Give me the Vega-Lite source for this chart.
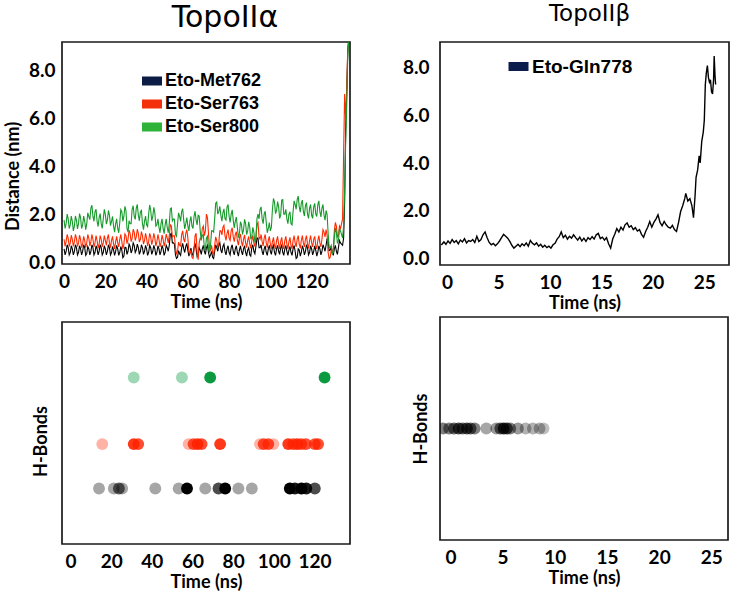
{
  "$schema": "https://vega.github.io/schema/vega-lite/v6.json",
  "background": "white",
  "padding": {"left": 3, "top": 2, "right": 2, "bottom": 0},
  "config": {
    "view": {"stroke": "#1a1a1a", "strokeWidth": 1.7},
    "font": "Lato",
    "axis": {"grid": false, "domain": false, "ticks": false, "labelFont": "Lato", "labelFontWeight": "bold", "labelFontSize": 19, "labelColor": "black", "titleFont": "Lato", "titleFontWeight": "bold", "titleFontSize": 18, "titleColor": "black", "labelFlush": false, "labelOverlap": false},
    "title": {"font": "DejaVu Sans", "fontWeight": "normal", "color": "black", "anchor": "middle"}
  },
  "datasets": {
    "tl": [
      {"t":0,"met762":0.55,"ser763":0.95,"ser800":1.75},
      {"t":1,"met762":0.45,"ser763":0.85,"ser800":1.6},
      {"t":2,"met762":0.6,"ser763":1.0,"ser800":1.8},
      {"t":3,"met762":0.4,"ser763":0.8,"ser800":1.55},
      {"t":4,"met762":0.55,"ser763":0.95,"ser800":1.7},
      {"t":5,"met762":0.45,"ser763":0.85,"ser800":1.5},
      {"t":6,"met762":0.6,"ser763":1.0,"ser800":1.75},
      {"t":7,"met762":0.4,"ser763":0.8,"ser800":1.6},
      {"t":8,"met762":0.55,"ser763":0.95,"ser800":1.85},
      {"t":9,"met762":0.45,"ser763":0.75,"ser800":1.55},
      {"t":10,"met762":0.6,"ser763":0.9,"ser800":1.7},
      {"t":11,"met762":0.35,"ser763":0.8,"ser800":1.6},
      {"t":12,"met762":0.55,"ser763":1.0,"ser800":1.9},
      {"t":13,"met762":0.45,"ser763":0.85,"ser800":2.25},
      {"t":14,"met762":0.6,"ser763":0.95,"ser800":1.9},
      {"t":15,"met762":0.4,"ser763":0.8,"ser800":2.1},
      {"t":16,"met762":0.55,"ser763":0.9,"ser800":1.7},
      {"t":17,"met762":0.45,"ser763":0.75,"ser800":1.85},
      {"t":18,"met762":0.6,"ser763":0.95,"ser800":1.6},
      {"t":19,"met762":0.4,"ser763":0.8,"ser800":1.8},
      {"t":20,"met762":0.55,"ser763":0.9,"ser800":2.0},
      {"t":21,"met762":0.45,"ser763":1.0,"ser800":1.75},
      {"t":22,"met762":0.6,"ser763":0.8,"ser800":1.95},
      {"t":23,"met762":0.4,"ser763":0.9,"ser800":1.7},
      {"t":24,"met762":0.5,"ser763":0.75,"ser800":1.5},
      {"t":25,"met762":0.45,"ser763":0.85,"ser800":1.6},
      {"t":26,"met762":0.55,"ser763":0.8,"ser800":1.4},
      {"t":27,"met762":0.4,"ser763":0.95,"ser800":1.65},
      {"t":28,"met762":0.5,"ser763":0.85,"ser800":2.1},
      {"t":29,"met762":0.25,"ser763":0.75,"ser800":1.9},
      {"t":30,"met762":0.6,"ser763":1.1,"ser800":2.15},
      {"t":31,"met762":0.45,"ser763":0.95,"ser800":1.25},
      {"t":32,"met762":0.65,"ser763":1.2,"ser800":1.6},
      {"t":33,"met762":0.5,"ser763":1.0,"ser800":2.2},
      {"t":34,"met762":0.7,"ser763":1.25,"ser800":1.9},
      {"t":35,"met762":0.5,"ser763":1.05,"ser800":2.25},
      {"t":36,"met762":0.6,"ser763":1.2,"ser800":1.95},
      {"t":37,"met762":0.45,"ser763":0.95,"ser800":2.1},
      {"t":38,"met762":0.6,"ser763":1.1,"ser800":1.6},
      {"t":39,"met762":0.45,"ser763":0.9,"ser800":1.7},
      {"t":40,"met762":0.55,"ser763":1.0,"ser800":1.55},
      {"t":41,"met762":0.4,"ser763":0.85,"ser800":2.0},
      {"t":42,"met762":0.6,"ser763":1.05,"ser800":2.15},
      {"t":43,"met762":0.45,"ser763":0.9,"ser800":1.9},
      {"t":44,"met762":0.55,"ser763":1.0,"ser800":2.05},
      {"t":45,"met762":0.4,"ser763":0.85,"ser800":1.55},
      {"t":46,"met762":0.55,"ser763":0.95,"ser800":1.45},
      {"t":47,"met762":0.45,"ser763":0.8,"ser800":1.6},
      {"t":48,"met762":0.55,"ser763":0.95,"ser800":1.4},
      {"t":49,"met762":0.4,"ser763":0.85,"ser800":1.55},
      {"t":50,"met762":0.6,"ser763":1.0,"ser800":1.45},
      {"t":51,"met762":0.7,"ser763":1.1,"ser800":1.6},
      {"t":52,"met762":1.2,"ser763":1.5,"ser800":2.25},
      {"t":53,"met762":0.8,"ser763":1.1,"ser800":1.8},
      {"t":54,"met762":0.3,"ser763":0.6,"ser800":1.15},
      {"t":55,"met762":0.2,"ser763":0.45,"ser800":1.6},
      {"t":56,"met762":0.35,"ser763":0.7,"ser800":1.9},
      {"t":57,"met762":0.6,"ser763":1.15,"ser800":2.1},
      {"t":58,"met762":0.55,"ser763":0.95,"ser800":1.75},
      {"t":59,"met762":0.65,"ser763":1.2,"ser800":1.6},
      {"t":60,"met762":0.5,"ser763":1.0,"ser800":1.5},
      {"t":61,"met762":0.4,"ser763":0.35,"ser800":1.7},
      {"t":62,"met762":0.35,"ser763":0.2,"ser800":1.5},
      {"t":63,"met762":0.6,"ser763":0.5,"ser800":1.9},
      {"t":64,"met762":0.55,"ser763":1.2,"ser800":1.75},
      {"t":65,"met762":0.3,"ser763":0.1,"ser800":1.95},
      {"t":66,"met762":0.5,"ser763":1.0,"ser800":1.3},
      {"t":67,"met762":0.55,"ser763":1.4,"ser800":1.1},
      {"t":68,"met762":0.45,"ser763":1.1,"ser800":0.6},
      {"t":69,"met762":0.6,"ser763":2.0,"ser800":1.0},
      {"t":70,"met762":0.4,"ser763":1.2,"ser800":0.55},
      {"t":71,"met762":0.3,"ser763":0.5,"ser800":0.7},
      {"t":72,"met762":0.2,"ser763":0.4,"ser800":1.3},
      {"t":73,"met762":0.45,"ser763":0.7,"ser800":1.8},
      {"t":74,"met762":0.6,"ser763":0.9,"ser800":2.5},
      {"t":75,"met762":0.7,"ser763":0.8,"ser800":2.1},
      {"t":76,"met762":0.5,"ser763":1.3,"ser800":1.95},
      {"t":77,"met762":0.65,"ser763":1.45,"ser800":2.05},
      {"t":78,"met762":0.45,"ser763":1.1,"ser800":1.8},
      {"t":79,"met762":0.55,"ser763":1.2,"ser800":2.3},
      {"t":80,"met762":0.4,"ser763":1.0,"ser800":1.9},
      {"t":81,"met762":0.6,"ser763":1.3,"ser800":2.0},
      {"t":82,"met762":0.45,"ser763":1.05,"ser800":1.75},
      {"t":83,"met762":0.55,"ser763":1.15,"ser800":1.7},
      {"t":84,"met762":0.4,"ser763":0.9,"ser800":1.45},
      {"t":85,"met762":0.5,"ser763":1.0,"ser800":1.2},
      {"t":86,"met762":0.45,"ser763":0.85,"ser800":1.55},
      {"t":87,"met762":0.55,"ser763":0.95,"ser800":1.35},
      {"t":88,"met762":0.4,"ser763":0.8,"ser800":1.6},
      {"t":89,"met762":0.5,"ser763":0.9,"ser800":1.3},
      {"t":90,"met762":0.3,"ser763":0.75,"ser800":1.45},
      {"t":91,"met762":0.6,"ser763":0.9,"ser800":1.05},
      {"t":92,"met762":0.45,"ser763":0.8,"ser800":1.25},
      {"t":93,"met762":0.65,"ser763":1.0,"ser800":1.0},
      {"t":94,"met762":1.0,"ser763":1.65,"ser800":2.0},
      {"t":95,"met762":0.6,"ser763":0.95,"ser800":2.2},
      {"t":96,"met762":0.45,"ser763":0.85,"ser800":1.8},
      {"t":97,"met762":0.55,"ser763":1.0,"ser800":2.0},
      {"t":98,"met762":0.4,"ser763":0.8,"ser800":1.65},
      {"t":99,"met762":0.55,"ser763":0.9,"ser800":1.4},
      {"t":100,"met762":0.45,"ser763":0.75,"ser800":1.3},
      {"t":101,"met762":0.6,"ser763":0.85,"ser800":2.2},
      {"t":102,"met762":0.4,"ser763":0.7,"ser800":2.5},
      {"t":103,"met762":0.55,"ser763":0.9,"ser800":2.15},
      {"t":104,"met762":0.45,"ser763":0.75,"ser800":2.3},
      {"t":105,"met762":0.6,"ser763":0.85,"ser800":1.95},
      {"t":106,"met762":0.4,"ser763":0.7,"ser800":2.6},
      {"t":107,"met762":0.55,"ser763":0.9,"ser800":2.0},
      {"t":108,"met762":0.45,"ser763":0.75,"ser800":1.8},
      {"t":109,"met762":0.5,"ser763":0.85,"ser800":2.0},
      {"t":110,"met762":0.4,"ser763":0.7,"ser800":1.6},
      {"t":111,"met762":0.55,"ser763":0.9,"ser800":2.1},
      {"t":112,"met762":0.45,"ser763":0.8,"ser800":2.4},
      {"t":113,"met762":0.2,"ser763":0.95,"ser800":2.6},
      {"t":114,"met762":0.5,"ser763":0.75,"ser800":2.3},
      {"t":115,"met762":0.4,"ser763":0.9,"ser800":2.45},
      {"t":116,"met762":0.55,"ser763":0.8,"ser800":2.1},
      {"t":117,"met762":0.45,"ser763":0.95,"ser800":2.35},
      {"t":118,"met762":0.6,"ser763":0.75,"ser800":2.0},
      {"t":119,"met762":0.4,"ser763":0.9,"ser800":2.25},
      {"t":120,"met762":0.55,"ser763":0.8,"ser800":1.95},
      {"t":121,"met762":0.45,"ser763":0.95,"ser800":2.3},
      {"t":122,"met762":0.5,"ser763":0.7,"ser800":2.0},
      {"t":123,"met762":0.4,"ser763":0.9,"ser800":2.4},
      {"t":124,"met762":0.55,"ser763":0.8,"ser800":2.1},
      {"t":125,"met762":0.45,"ser763":0.95,"ser800":2.25},
      {"t":126,"met762":0.6,"ser763":1.25,"ser800":1.95},
      {"t":127,"met762":0.7,"ser763":1.35,"ser800":2.15},
      {"t":128,"met762":0.85,"ser763":0.4,"ser800":1.2},
      {"t":129,"met762":0.5,"ser763":0.2,"ser800":0.6},
      {"t":130,"met762":0.4,"ser763":0.35,"ser800":0.35},
      {"t":131,"met762":0.55,"ser763":1.3,"ser800":1.0},
      {"t":132,"met762":0.45,"ser763":1.5,"ser800":1.25},
      {"t":133,"met762":0.6,"ser763":1.1,"ser800":0.9},
      {"t":134,"met762":0.8,"ser763":1.4,"ser800":1.3},
      {"t":135,"met762":0.7,"ser763":1.8,"ser800":1.0},
      {"t":135.5,"met762":1.0,"ser763":4.5,"ser800":1.5},
      {"t":136,"met762":2.5,"ser763":7.0,"ser800":3.0},
      {"t":136.5,"met762":5.5,"ser763":6.0,"ser800":5.0},
      {"t":137,"met762":7.0,"ser763":7.2,"ser800":6.5},
      {"t":137.5,"met762":8.8,"ser763":8.8,"ser800":8.5},
      {"t":138,"met762":9.3,"ser763":9.3,"ser800":9.3},
      {"t":0.5,"met762":0.3,"ser763":0.65,"ser800":1.4},
      {"t":1.5,"met762":0.72,"ser763":1.15,"ser800":2.0},
      {"t":2.5,"met762":0.3,"ser763":0.65,"ser800":1.4},
      {"t":3.5,"met762":0.68,"ser763":1.12,"ser800":1.92},
      {"t":4.5,"met762":0.3,"ser763":0.65,"ser800":1.3},
      {"t":5.5,"met762":0.72,"ser763":1.15,"ser800":1.92},
      {"t":6.5,"met762":0.3,"ser763":0.65,"ser800":1.38},
      {"t":7.5,"met762":0.68,"ser763":1.12,"ser800":2.02},
      {"t":8.5,"met762":0.3,"ser763":0.6,"ser800":1.4},
      {"t":9.5,"met762":0.72,"ser763":1.07,"ser800":1.92},
      {"t":10.5,"met762":0.28,"ser763":0.6,"ser800":1.35},
      {"t":11.5,"met762":0.65,"ser763":1.15,"ser800":2.05},
      {"t":12.5,"met762":0.3,"ser763":0.67,"ser800":1.77},
      {"t":13.5,"met762":0.72,"ser763":1.15,"ser800":2.37},
      {"t":14.5,"met762":0.3,"ser763":0.63,"ser800":1.7},
      {"t":15.5,"met762":0.68,"ser763":1.1,"ser800":2.2},
      {"t":16.5,"met762":0.3,"ser763":0.57,"ser800":1.48},
      {"t":17.5,"met762":0.72,"ser763":1.1,"ser800":2.02},
      {"t":18.5,"met762":0.3,"ser763":0.63,"ser800":1.4},
      {"t":19.5,"met762":0.68,"ser763":1.1,"ser800":2.2},
      {"t":20.5,"met762":0.3,"ser763":0.7,"ser800":1.58},
      {"t":21.5,"met762":0.72,"ser763":1.15,"ser800":2.15},
      {"t":22.5,"met762":0.3,"ser763":0.6,"ser800":1.52},
      {"t":23.5,"met762":0.65,"ser763":1.07,"ser800":1.9},
      {"t":24.5,"met762":0.28,"ser763":0.55,"ser800":1.25},
      {"t":25.5,"met762":0.7,"ser763":1.07,"ser800":1.8},
      {"t":26.5,"met762":0.28,"ser763":0.63,"ser800":1.22},
      {"t":27.5,"met762":0.65,"ser763":1.15,"ser800":2.18},
      {"t":28.5,"met762":0.18,"ser763":0.55,"ser800":1.7},
      {"t":29.5,"met762":0.62,"ser763":1.17,"ser800":2.32},
      {"t":30.5,"met762":0.32,"ser763":0.77,"ser800":1.4},
      {"t":31.5,"met762":0.75,"ser763":1.33,"ser800":1.72},
      {"t":32.5,"met762":0.38,"ser763":0.85,"ser800":1.6},
      {"t":33.5,"met762":0.8,"ser763":1.37,"ser800":2.35},
      {"t":34.5,"met762":0.4,"ser763":0.9,"ser800":1.78},
      {"t":35.5,"met762":0.75,"ser763":1.37,"ser800":2.4},
      {"t":36.5,"met762":0.32,"ser763":0.83,"ser800":1.72},
      {"t":37.5,"met762":0.72,"ser763":1.27,"ser800":2.15},
      {"t":38.5,"met762":0.32,"ser763":0.75,"ser800":1.35},
      {"t":39.5,"met762":0.7,"ser763":1.2,"ser800":1.92},
      {"t":40.5,"met762":0.28,"ser763":0.67,"ser800":1.48},
      {"t":41.5,"met762":0.7,"ser763":1.2,"ser800":2.38},
      {"t":42.5,"met762":0.32,"ser763":0.73,"ser800":1.72},
      {"t":43.5,"met762":0.7,"ser763":1.2,"ser800":2.28},
      {"t":44.5,"met762":0.28,"ser763":0.67,"ser800":1.5},
      {"t":45.5,"met762":0.68,"ser763":1.15,"ser800":1.8},
      {"t":46.5,"met762":0.3,"ser763":0.63,"ser800":1.22},
      {"t":47.5,"met762":0.7,"ser763":1.13,"ser800":1.8},
      {"t":48.5,"met762":0.28,"ser763":0.65,"ser800":1.18},
      {"t":49.5,"met762":0.7,"ser763":1.17,"ser800":1.8},
      {"t":50.5,"met762":0.45,"ser763":0.8,"ser800":1.22},
      {"t":51.5,"met762":1.15,"ser763":1.55,"ser800":2.22},
      {"t":52.5,"met762":0.8,"ser763":1.05,"ser800":1.72},
      {"t":53.5,"met762":0.75,"ser763":1.1,"ser800":1.78},
      {"t":54.5,"met762":0.15,"ser763":0.35,"ser800":1.08},
      {"t":55.5,"met762":0.48,"ser763":0.83,"ser800":2.05},
      {"t":56.5,"met762":0.28,"ser763":0.67,"ser800":1.7},
      {"t":57.5,"met762":0.78,"ser763":1.3,"ser800":2.22},
      {"t":58.5,"met762":0.4,"ser763":0.83,"ser800":1.38},
      {"t":59.5,"met762":0.78,"ser763":1.35,"ser800":1.85},
      {"t":60.5,"met762":0.25,"ser763":0.43,"ser800":1.3},
      {"t":61.5,"met762":0.58,"ser763":0.5,"ser800":1.9},
      {"t":62.5,"met762":0.28,"ser763":0.15,"ser800":1.4},
      {"t":63.5,"met762":0.78,"ser763":1.1,"ser800":2.12},
      {"t":64.5,"met762":0.22,"ser763":0.4,"ser800":1.55},
      {"t":65.5,"met762":0.6,"ser763":0.8,"ser800":1.92},
      {"t":66.5,"met762":0.32,"ser763":0.95,"ser800":0.9},
      {"t":67.5,"met762":0.7,"ser763":1.5,"ser800":1.15},
      {"t":68.5,"met762":0.32,"ser763":1.3,"ser800":0.5},
      {"t":69.5,"met762":0.7,"ser763":1.85,"ser800":1.08},
      {"t":70.5,"met762":0.2,"ser763":0.6,"ser800":0.4},
      {"t":71.5,"met762":0.45,"ser763":0.7,"ser800":1.3},
      {"t":72.5,"met762":0.15,"ser763":0.3,"ser800":1.25},
      {"t":73.5,"met762":0.72,"ser763":1.05,"ser800":2.45},
      {"t":74.5,"met762":0.45,"ser763":0.6,"ser800":2.0},
      {"t":75.5,"met762":0.8,"ser763":1.3,"ser800":2.32},
      {"t":76.5,"met762":0.38,"ser763":1.13,"ser800":1.7},
      {"t":77.5,"met762":0.75,"ser763":1.53,"ser800":2.22},
      {"t":78.5,"met762":0.3,"ser763":0.9,"ser800":1.75},
      {"t":79.5,"met762":0.68,"ser763":1.35,"ser800":2.4},
      {"t":80.5,"met762":0.3,"ser763":0.9,"ser800":1.65},
      {"t":81.5,"met762":0.72,"ser763":1.43,"ser800":2.18},
      {"t":82.5,"met762":0.3,"ser763":0.85,"ser800":1.42},
      {"t":83.5,"met762":0.68,"ser763":1.27,"ser800":1.88},
      {"t":84.5,"met762":0.25,"ser763":0.7,"ser800":1.02},
      {"t":85.5,"met762":0.68,"ser763":1.17,"ser800":1.68},
      {"t":86.5,"met762":0.3,"ser763":0.65,"ser800":1.15},
      {"t":87.5,"met762":0.68,"ser763":1.13,"ser800":1.78},
      {"t":88.5,"met762":0.25,"ser763":0.6,"ser800":1.15},
      {"t":89.5,"met762":0.6,"ser763":1.07,"ser800":1.68},
      {"t":90.5,"met762":0.25,"ser763":0.57,"ser800":0.95},
      {"t":91.5,"met762":0.72,"ser763":1.1,"ser800":1.45},
      {"t":92.5,"met762":0.35,"ser763":0.65,"ser800":0.82},
      {"t":93.5,"met762":1.0,"ser763":1.57,"ser800":1.8},
      {"t":94.5,"met762":0.6,"ser763":1.05,"ser800":1.8},
      {"t":95.5,"met762":0.72,"ser763":1.15,"ser800":2.3},
      {"t":96.5,"met762":0.3,"ser763":0.67,"ser800":1.6},
      {"t":97.5,"met762":0.68,"ser763":1.15,"ser800":2.12},
      {"t":98.5,"met762":0.28,"ser763":0.6,"ser800":1.22},
      {"t":99.5,"met762":0.7,"ser763":1.07,"ser800":1.65},
      {"t":100.5,"met762":0.32,"ser763":0.55,"ser800":1.45},
      {"t":101.5,"met762":0.7,"ser763":1.03,"ser800":2.65},
      {"t":102.5,"met762":0.28,"ser763":0.55,"ser800":2.02},
      {"t":103.5,"met762":0.7,"ser763":1.07,"ser800":2.52},
      {"t":104.5,"met762":0.32,"ser763":0.55,"ser800":1.82},
      {"t":105.5,"met762":0.7,"ser763":1.03,"ser800":2.58},
      {"t":106.5,"met762":0.28,"ser763":0.55,"ser800":2.0},
      {"t":107.5,"met762":0.7,"ser763":1.07,"ser800":2.2},
      {"t":108.5,"met762":0.28,"ser763":0.55,"ser800":1.6},
      {"t":109.5,"met762":0.65,"ser763":1.03,"ser800":2.1},
      {"t":110.5,"met762":0.28,"ser763":0.55,"ser800":1.55},
      {"t":111.5,"met762":0.7,"ser763":1.1,"ser800":2.55},
      {"t":112.5,"met762":0.15,"ser763":0.63,"ser800":2.2},
      {"t":113.5,"met762":0.55,"ser763":1.1,"ser800":2.75},
      {"t":114.5,"met762":0.25,"ser763":0.57,"ser800":2.08},
      {"t":115.5,"met762":0.68,"ser763":1.1,"ser800":2.58},
      {"t":116.5,"met762":0.3,"ser763":0.63,"ser800":1.92},
      {"t":117.5,"met762":0.72,"ser763":1.1,"ser800":2.48},
      {"t":118.5,"met762":0.3,"ser763":0.57,"ser800":1.82},
      {"t":119.5,"met762":0.68,"ser763":1.1,"ser800":2.4},
      {"t":120.5,"met762":0.3,"ser763":0.63,"ser800":1.82},
      {"t":121.5,"met762":0.68,"ser763":1.07,"ser800":2.45},
      {"t":122.5,"met762":0.25,"ser763":0.55,"ser800":1.9},
      {"t":123.5,"met762":0.68,"ser763":1.1,"ser800":2.55},
      {"t":124.5,"met762":0.3,"ser763":0.63,"ser800":1.88},
      {"t":125.5,"met762":0.72,"ser763":1.35,"ser800":2.4},
      {"t":126.5,"met762":0.45,"ser763":1.05,"ser800":1.75},
      {"t":127.5,"met762":0.98,"ser763":1.13,"ser800":1.98},
      {"t":128.5,"met762":0.48,"ser763":0.15,"ser800":0.6},
      {"t":129.5,"met762":0.65,"ser763":0.5,"ser800":0.7},
      {"t":130.5,"met762":0.28,"ser763":0.57,"ser800":0.4},
      {"t":131.5,"met762":0.7,"ser763":1.65,"ser800":1.42},
      {"t":132.5,"met762":0.32,"ser763":1.05,"ser800":0.78},
      {"t":133.5,"met762":0.9,"ser763":1.5,"ser800":1.4}
    ],
    "tr": [
      {"t":-0.55,"d":0.55},{"t":-0.3,"d":0.68},{"t":-0.1,"d":0.58},{"t":0.1,"d":0.72},{"t":0.3,"d":0.62},
      {"t":0.5,"d":0.78},{"t":0.7,"d":0.66},{"t":0.9,"d":0.74},{"t":1.1,"d":0.6},{"t":1.3,"d":0.76},
      {"t":1.5,"d":0.68},{"t":1.7,"d":0.82},{"t":1.9,"d":0.64},{"t":2.1,"d":0.74},{"t":2.3,"d":0.7},
      {"t":2.5,"d":0.78},{"t":2.7,"d":0.66},{"t":2.9,"d":0.92},{"t":3.1,"d":0.7},{"t":3.3,"d":0.78},
      {"t":3.5,"d":0.98},{"t":3.7,"d":1.1},{"t":3.9,"d":0.86},{"t":4.1,"d":0.66},{"t":4.3,"d":0.56},
      {"t":4.5,"d":0.62},{"t":4.7,"d":0.52},{"t":4.9,"d":0.6},{"t":5.1,"d":0.72},{"t":5.3,"d":0.86},
      {"t":5.5,"d":1.0},{"t":5.7,"d":0.92},{"t":5.9,"d":0.84},{"t":6.1,"d":0.7},{"t":6.3,"d":0.54},
      {"t":6.5,"d":0.42},{"t":6.7,"d":0.5},{"t":6.9,"d":0.58},{"t":7.1,"d":0.48},{"t":7.3,"d":0.6},
      {"t":7.5,"d":0.52},{"t":7.7,"d":0.64},{"t":7.9,"d":0.5},{"t":8.1,"d":0.74},{"t":8.3,"d":0.62},
      {"t":8.5,"d":0.56},{"t":8.7,"d":0.64},{"t":8.9,"d":0.5},{"t":9.1,"d":0.58},{"t":9.3,"d":0.46},
      {"t":9.5,"d":0.54},{"t":9.7,"d":0.44},{"t":9.9,"d":0.5},{"t":10.1,"d":0.42},{"t":10.3,"d":0.56},
      {"t":10.5,"d":0.62},{"t":10.7,"d":0.8},{"t":10.9,"d":0.9},{"t":11.1,"d":1.1},{"t":11.3,"d":0.86},
      {"t":11.5,"d":0.96},{"t":11.7,"d":0.8},{"t":11.9,"d":0.92},{"t":12.1,"d":0.84},{"t":12.3,"d":0.98},
      {"t":12.5,"d":0.86},{"t":12.7,"d":0.76},{"t":12.9,"d":0.88},{"t":13.1,"d":0.72},{"t":13.3,"d":0.84},
      {"t":13.5,"d":0.7},{"t":13.7,"d":0.86},{"t":13.9,"d":0.78},{"t":14.1,"d":0.9},{"t":14.3,"d":0.8},
      {"t":14.5,"d":0.98},{"t":14.7,"d":1.04},{"t":14.9,"d":0.82},{"t":15.1,"d":0.88},{"t":15.3,"d":0.76},
      {"t":15.5,"d":0.86},{"t":15.7,"d":0.6},{"t":15.9,"d":0.42},{"t":16.1,"d":0.8},{"t":16.3,"d":1.0},
      {"t":16.5,"d":1.24},{"t":16.7,"d":1.1},{"t":16.9,"d":1.3},{"t":17.1,"d":1.18},{"t":17.3,"d":1.4},
      {"t":17.5,"d":1.48},{"t":17.7,"d":1.3},{"t":17.9,"d":1.36},{"t":18.1,"d":1.2},{"t":18.3,"d":1.28},
      {"t":18.5,"d":1.14},{"t":18.7,"d":1.2},{"t":18.9,"d":1.0},{"t":19.1,"d":0.88},{"t":19.3,"d":1.12},
      {"t":19.5,"d":1.3},{"t":19.7,"d":1.54},{"t":19.9,"d":1.3},{"t":20.1,"d":1.5},{"t":20.3,"d":1.64},
      {"t":20.5,"d":1.82},{"t":20.7,"d":1.5},{"t":20.9,"d":1.36},{"t":21.1,"d":1.54},{"t":21.3,"d":1.4},
      {"t":21.5,"d":1.3},{"t":21.7,"d":1.26},{"t":21.9,"d":1.38},{"t":22.1,"d":1.2},{"t":22.3,"d":1.12},
      {"t":22.5,"d":1.5},{"t":22.7,"d":1.96},{"t":22.9,"d":2.2},{"t":23.1,"d":2.5},{"t":23.2,"d":2.72},
      {"t":23.4,"d":2.4},{"t":23.6,"d":2.5},{"t":23.8,"d":2.2},{"t":23.95,"d":1.7},{"t":24.1,"d":2.6},
      {"t":24.2,"d":3.4},{"t":24.35,"d":3.7},{"t":24.5,"d":4.3},{"t":24.6,"d":4.0},{"t":24.75,"d":4.9},
      {"t":24.9,"d":5.3},{"t":25.0,"d":5.8},{"t":25.1,"d":7.3},{"t":25.2,"d":7.8},{"t":25.3,"d":8.1},
      {"t":25.4,"d":7.6},{"t":25.5,"d":7.4},{"t":25.6,"d":7.5},{"t":25.7,"d":7.0},{"t":25.8,"d":6.9},
      {"t":25.9,"d":7.5},{"t":25.96,"d":8.5},{"t":26.05,"d":7.6},{"t":26.1,"d":7.3}
    ],
    "bl": [
      {"t":14,"res":"met762","lvl":1,"occ":0.35},
      {"t":21.3,"res":"met762","lvl":1,"occ":0.35},
      {"t":23.8,"res":"met762","lvl":1,"occ":0.6},
      {"t":25.4,"res":"met762","lvl":1,"occ":0.35},
      {"t":41.7,"res":"met762","lvl":1,"occ":0.35},
      {"t":53.2,"res":"met762","lvl":1,"occ":0.35},
      {"t":57.3,"res":"met762","lvl":1,"occ":1.0},
      {"t":66.3,"res":"met762","lvl":1,"occ":0.35},
      {"t":72.8,"res":"met762","lvl":1,"occ":0.7},
      {"t":76.1,"res":"met762","lvl":1,"occ":1.0},
      {"t":82.6,"res":"met762","lvl":1,"occ":0.35},
      {"t":89.2,"res":"met762","lvl":1,"occ":0.35},
      {"t":107.9,"res":"met762","lvl":1,"occ":1.0},
      {"t":110.4,"res":"met762","lvl":1,"occ":0.9},
      {"t":113.6,"res":"met762","lvl":1,"occ":1.0},
      {"t":116,"res":"met762","lvl":1,"occ":0.9},
      {"t":120.2,"res":"met762","lvl":1,"occ":0.7},
      {"t":15.6,"res":"ser763","lvl":1.8,"occ":0.35},
      {"t":31.1,"res":"ser763","lvl":1.8,"occ":0.9},
      {"t":33.3,"res":"ser763","lvl":1.8,"occ":0.8},
      {"t":58.1,"res":"ser763","lvl":1.8,"occ":0.35},
      {"t":60.5,"res":"ser763","lvl":1.8,"occ":0.8},
      {"t":62.5,"res":"ser763","lvl":1.8,"occ":0.9},
      {"t":64.5,"res":"ser763","lvl":1.8,"occ":0.8},
      {"t":73.6,"res":"ser763","lvl":1.8,"occ":0.9},
      {"t":93.2,"res":"ser763","lvl":1.8,"occ":0.35},
      {"t":95,"res":"ser763","lvl":1.8,"occ":0.8},
      {"t":97.3,"res":"ser763","lvl":1.8,"occ":0.8},
      {"t":99.8,"res":"ser763","lvl":1.8,"occ":0.35},
      {"t":107.1,"res":"ser763","lvl":1.8,"occ":0.9},
      {"t":109.5,"res":"ser763","lvl":1.8,"occ":0.8},
      {"t":111.5,"res":"ser763","lvl":1.8,"occ":0.9},
      {"t":113.5,"res":"ser763","lvl":1.8,"occ":0.8},
      {"t":115.8,"res":"ser763","lvl":1.8,"occ":0.8},
      {"t":120.2,"res":"ser763","lvl":1.8,"occ":0.8},
      {"t":121.8,"res":"ser763","lvl":1.8,"occ":0.8},
      {"t":31.1,"res":"ser800","lvl":3,"occ":0.4},
      {"t":54.8,"res":"ser800","lvl":3,"occ":0.4},
      {"t":68.7,"res":"ser800","lvl":3,"occ":1.0},
      {"t":125,"res":"ser800","lvl":3,"occ":1.0}
    ],
    "br": [
      {"t":-0.71,"lvl":1,"occ":0.5},{"t":-0.13,"lvl":1,"occ":0.5},{"t":0.34,"lvl":1,"occ":0.6},
      {"t":0.79,"lvl":1,"occ":0.7},{"t":1.17,"lvl":1,"occ":0.6},{"t":1.58,"lvl":1,"occ":0.7},
      {"t":1.93,"lvl":1,"occ":0.6},{"t":2.32,"lvl":1,"occ":0.5},{"t":3.44,"lvl":1,"occ":0.35},
      {"t":4.4,"lvl":1,"occ":0.4},{"t":4.78,"lvl":1,"occ":0.6},{"t":5.1,"lvl":1,"occ":0.8},
      {"t":5.41,"lvl":1,"occ":0.7},{"t":5.73,"lvl":1,"occ":0.5},{"t":6.47,"lvl":1,"occ":0.4},
      {"t":7.2,"lvl":1,"occ":0.3},{"t":7.9,"lvl":1,"occ":0.3},{"t":8.54,"lvl":1,"occ":0.3},
      {"t":8.92,"lvl":1,"occ":0.25}
    ]
  },
  "resolve": {"scale": {"color": "independent", "opacity": "independent"}, "legend": {"color": "independent"}},
  "spacing": 50,
  "hconcat": [
    {
      "vconcat": [
        {
          "width": 288, "height": 222,
          "title": {"text": "TopoIIα", "fontSize": 30, "dx": 19, "offset": -15, "baseline": "alphabetic"},
          "data": {"name": "tl"},
          "transform": [{"fold": ["met762", "ser763", "ser800"], "as": ["series", "d"]}],
          "mark": {"type": "line", "strokeWidth": 1.1, "clip": true},
          "encoding": {
            "x": {"field": "t", "type": "quantitative", "scale": {"domain": [-1, 138.6], "nice": false, "zero": false},
                  "axis": {"values": [0, 20, 40, 60, 80, 100, 120], "title": "Time (ns)", "labelPadding": 8, "titlePadding": 2}},
            "y": {"field": "d", "type": "quantitative", "scale": {"domain": [-0.08, 9.17], "nice": false, "zero": false},
                  "axis": {"values": [0, 2, 4, 6, 8], "format": ".1f", "title": "Distance (nm)", "labelPadding": 7, "titlePadding": 6, "titleY": 134}},
            "color": {"field": "series", "type": "nominal",
                      "scale": {"domain": ["met762", "ser763", "ser800"], "range": ["#000000", "#ff2a00", "#159a2a"]},
                      "legend": {"title": null, "orient": "none", "legendX": 81, "legendY": 30, "symbolType": "M-2,-0.9H2V0.9H-2Z", "symbolSize": 100, "symbolStrokeWidth": 0,
                                 "labelFont": "Liberation Sans", "labelFontWeight": "bold", "labelFontSize": 18, "labelColor": "black", "labelOffset": 4, "rowPadding": 5, "padding": 0, "labelLimit": 300,
                                 "labelExpr": "datum.value == 'met762' ? 'Eto-Met762' : datum.value == 'ser763' ? 'Eto-Ser763' : 'Eto-Ser800'",
                                 "encode": {"symbols": {"update": {"fill": {"signal": "datum.value == 'met762' ? '#0c1d45' : datum.value == 'ser763' ? '#f4300c' : '#2eb338'"}, "fillOpacity": {"value": 1}, "strokeWidth": {"value": 0}}}}}}
          }
        },
        {
          "width": 288, "height": 222,
          "data": {"name": "bl"},
          "mark": {"type": "point", "filled": true, "size": 140, "clip": true},
          "encoding": {
            "x": {"field": "t", "type": "quantitative", "scale": {"domain": [-4.2, 137.5], "nice": false, "zero": false},
                  "axis": {"values": [0, 20, 40, 60, 80, 100, 120], "title": "Time (ns)", "labelPadding": 8, "titlePadding": 2}},
            "y": {"field": "lvl", "type": "quantitative", "scale": {"domain": [0, 4], "nice": false},
                  "axis": {"labels": false, "title": "H-Bonds", "titlePadding": 12, "minExtent": 0, "titleY": 119}},
            "color": {"field": "res", "type": "nominal", "scale": {"domain": ["met762", "ser763", "ser800"], "range": ["#000000", "#ff2200", "#0c9a40"]}, "legend": null},
            "opacity": {"field": "occ", "type": "quantitative", "scale": {"domain": [0, 1], "range": [0, 1]}, "legend": null}
          }
        }
      ],
      "spacing": 58,
      "bounds": "flush",
      "resolve": {"scale": {"color": "independent", "opacity": "independent"}, "legend": {"color": "independent"}}
    },
    {
      "vconcat": [
        {
          "width": 289, "height": 223,
          "title": {"text": "TopoIIβ", "fontSize": 23, "dx": 5, "offset": -2, "baseline": "alphabetic"},
          "data": {"name": "tr"},
          "mark": {"type": "line", "strokeWidth": 1.4, "clip": true},
          "encoding": {
            "x": {"field": "t", "type": "quantitative", "scale": {"domain": [-0.68, 27.4], "nice": false, "zero": false},
                  "axis": {"values": [0, 5, 10, 15, 20, 25], "title": "Time (ns)", "labelPadding": 8, "titlePadding": 2}},
            "y": {"field": "d", "type": "quantitative", "scale": {"domain": [-0.29, 9.09], "nice": false, "zero": false},
                  "axis": {"values": [0, 2, 4, 6, 8], "format": ".1f", "title": null, "labelPadding": 11}},
            "color": {"datum": "Eto-Gln778", "type": "nominal", "scale": {"range": ["#000000"]},
                      "legend": {"title": null, "orient": "none", "legendX": 69, "legendY": 15, "symbolType": "M-2,-0.9H2V0.9H-2Z", "symbolSize": 100, "symbolStrokeWidth": 0,
                                 "labelFont": "Liberation Sans", "labelFontWeight": "bold", "labelFontSize": 19, "labelColor": "black", "labelOffset": 4, "padding": 0, "labelLimit": 300,
                                 "encode": {"symbols": {"update": {"fill": {"value": "#0b1d4a"}, "fillOpacity": {"value": 1}, "strokeWidth": {"value": 0}}}}}}
          }
        },
        {
          "width": 288, "height": 223,
          "data": {"name": "br"},
          "mark": {"type": "point", "filled": true, "size": 140, "clip": true, "color": "#000000"},
          "encoding": {
            "x": {"field": "t", "type": "quantitative", "scale": {"domain": [-1.0, 26.6], "nice": false, "zero": false},
                  "axis": {"values": [0, 5, 10, 15, 20, 25], "title": "Time (ns)", "labelPadding": 8, "titlePadding": 2}},
            "y": {"field": "lvl", "type": "quantitative", "scale": {"domain": [0, 2], "nice": false},
                  "axis": {"labels": false, "title": "H-Bonds", "titlePadding": 10, "minExtent": 0}},
            "opacity": {"field": "occ", "type": "quantitative", "scale": {"domain": [0, 1], "range": [0, 1]}, "legend": null}
          }
        }
      ],
      "spacing": 52,
      "bounds": "flush",
      "resolve": {"scale": {"color": "independent", "opacity": "independent"}, "legend": {"color": "independent"}}
    }
  ]
}
